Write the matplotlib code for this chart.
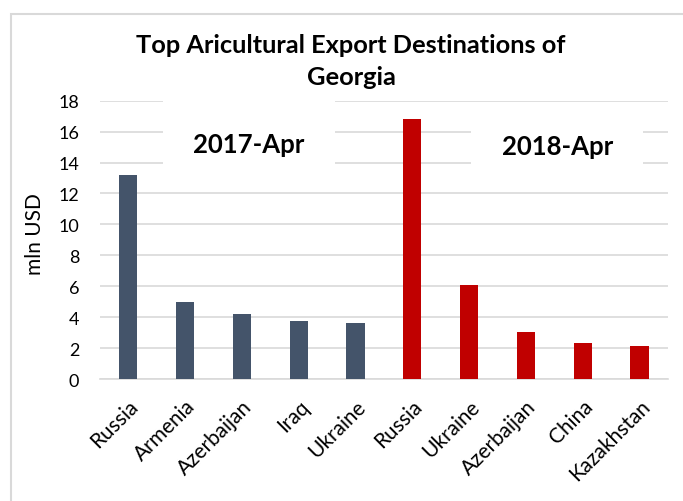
import matplotlib.pyplot as plt
from matplotlib.patches import Rectangle

plt.rcParams['font.family'] = ['Lato', 'DejaVu Sans']

countries_2017 = ["Russia", "Armenia", "Azerbaijan", "Iraq", "Ukraine"]
values_2017 = [13.2, 4.95, 4.22, 3.78, 3.65]
countries_2018 = ["Russia", "Ukraine", "Azerbaijan", "China", "Kazakhstan"]
values_2018 = [16.82, 6.1, 3.06, 2.36, 2.16]

labels = countries_2017 + countries_2018
values = values_2017 + values_2018
colors = ["#44546A"] * len(values_2017) + ["#C00000"] * len(values_2018)

fig = plt.figure(figsize=(6.83, 5.02), dpi=100)

# light frame around the chart area
fig.patches.append(Rectangle((11 / 683, -0.1), 1.2, 1 - 15 / 502 + 0.1,
                             transform=fig.transFigure, fill=False,
                             edgecolor="#D9D9D9", linewidth=1.5))

ax = fig.add_axes([0.1464, 0.243, 0.978 - 0.1464, 0.7974 - 0.243])
x = list(range(len(values)))
ax.bar(x, values, width=0.32, color=colors, zorder=3)

ax.set_xlim(-0.5, len(values) - 0.5)
ax.set_ylim(0, 18)
ax.set_yticks(range(0, 19, 2))
ax.set_xticks(x)
ax.set_xticklabels(labels, rotation=45, ha="right", rotation_mode="anchor")
ax.tick_params(axis="both", length=0)
ax.tick_params(axis="x", pad=12, labelsize=15)
ax.tick_params(axis="y", pad=15, labelsize=13)
ax.yaxis.grid(True, color="#D9D9D9", linewidth=1.2, zorder=0)
ax.set_axisbelow(True)
for side in ["top", "right", "left"]:
    ax.spines[side].set_visible(False)
ax.spines["bottom"].set_color("#D9D9D9")
ax.spines["bottom"].set_linewidth(1.2)

fig.text(35 / 683, 1 - 234 / 502, "mln USD", rotation=90, fontsize=15,
         ha="center", va="center")

box = dict(facecolor="white", edgecolor="none", pad=22)
ax.text(2.12, 15.2, "2017-Apr", fontsize=18.5, fontweight="bold",
        ha="center", va="center", bbox=box, zorder=2)
ax.text(7.55, 15.05, "2018-Apr", fontsize=18.5, fontweight="bold",
        ha="center", va="center", bbox=box, zorder=2)

fig.text(0.514, 0.8775, "Top Aricultural Export Destinations of\nGeorgia",
         ha="center", va="center", fontsize=18.3, fontweight="bold",
         linespacing=1.5)

fig.savefig("out.png", dpi=100)
